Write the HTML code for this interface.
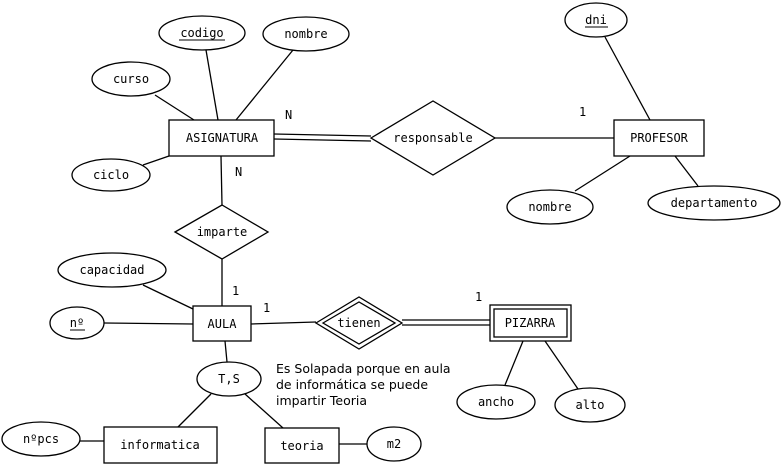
<!DOCTYPE html>
<html><head><meta charset="utf-8"><style>
html,body{margin:0;padding:0;background:#fff;}
svg{display:block;}
text{font-family:"DejaVu Sans Mono","Liberation Mono",monospace;font-size:12px;fill:#000;}
.t{font-family:"DejaVu Sans","Liberation Sans",sans-serif;font-size:12.5px;}
</style></head><body>
<svg width="782" height="465" viewBox="0 0 782 465" xmlns="http://www.w3.org/2000/svg">
<g stroke="#000" stroke-width="1.3" fill="none">
<!-- lines -->
<line x1="206" y1="50" x2="218" y2="120"/>
<line x1="293" y1="50" x2="236" y2="120"/>
<line x1="155" y1="95" x2="194" y2="120"/>
<line x1="143" y1="165" x2="169" y2="156"/>
<line x1="274" y1="134" x2="371" y2="136"/>
<line x1="274" y1="139" x2="371" y2="141"/>
<line x1="495" y1="138" x2="614" y2="138"/>
<line x1="605" y1="37" x2="650" y2="120"/>
<line x1="575" y1="191" x2="630" y2="156"/>
<line x1="698" y1="186" x2="675" y2="156"/>
<line x1="221" y1="156" x2="222" y2="205"/>
<line x1="222" y1="259" x2="222" y2="306"/>
<line x1="143" y1="285" x2="193" y2="309"/>
<line x1="104" y1="323" x2="193" y2="324"/>
<line x1="251" y1="324" x2="316" y2="322"/>
<line x1="402" y1="320" x2="490" y2="320"/>
<line x1="402" y1="325" x2="490" y2="325"/>
<line x1="523" y1="341" x2="505" y2="385"/>
<line x1="545" y1="341" x2="578" y2="389"/>
<line x1="225" y1="341" x2="227" y2="362"/>
<line x1="211" y1="394" x2="178" y2="427"/>
<line x1="245" y1="394" x2="283" y2="428"/>
<line x1="80" y1="441" x2="104" y2="441"/>
<line x1="339" y1="444" x2="367" y2="444"/>
<!-- shapes -->
<g fill="#fff">
<ellipse cx="202" cy="33" rx="43" ry="17"/>
<ellipse cx="306" cy="34" rx="43" ry="17"/>
<ellipse cx="131" cy="79" rx="39" ry="17"/>
<ellipse cx="111" cy="175" rx="39" ry="16"/>
<rect x="169" y="120" width="105" height="36"/>
<polygon points="371,138 433,101 495,138 433,175"/>
<rect x="614" y="120" width="90" height="36"/>
<ellipse cx="596" cy="20" rx="31" ry="17"/>
<ellipse cx="550" cy="207" rx="43" ry="17"/>
<ellipse cx="714" cy="203" rx="66" ry="17"/>
<polygon points="175,232 222,205 268,232 222,259"/>
<ellipse cx="112" cy="270" rx="54" ry="17"/>
<ellipse cx="77" cy="323" rx="27" ry="16"/>
<rect x="193" y="306" width="58" height="35"/>
<polygon points="316,323 359,297 402,323 359,349"/>
<polygon points="323,323 359,302 395,323 359,344"/>
<rect x="490" y="305" width="81" height="36"/>
<rect x="494" y="309" width="73" height="28"/>
<ellipse cx="496" cy="402" rx="39" ry="17"/>
<ellipse cx="590" cy="405" rx="35" ry="17"/>
<ellipse cx="229" cy="379" rx="32" ry="17"/>
<rect x="104" y="427" width="113" height="36"/>
<rect x="265" y="428" width="74" height="35"/>
<ellipse cx="41" cy="439" rx="39" ry="17"/>
<ellipse cx="394" cy="444" rx="27" ry="17"/>
</g>
<!-- underlines -->
<line x1="179" y1="40" x2="225" y2="40" stroke-width="1"/>
<line x1="585" y1="27" x2="608" y2="27" stroke-width="1"/>
<line x1="70" y1="330" x2="85" y2="330" stroke-width="1"/>
</g>
<g text-anchor="middle">
<text x="202" y="37">codigo</text>
<text x="306" y="38">nombre</text>
<text x="131" y="83">curso</text>
<text x="111" y="179">ciclo</text>
<text x="222" y="142">ASIGNATURA</text>
<text x="433" y="142">responsable</text>
<text x="659" y="142">PROFESOR</text>
<text x="596" y="24">dni</text>
<text x="550" y="211">nombre</text>
<text x="714" y="207">departamento</text>
<text x="222" y="236">imparte</text>
<text x="112" y="274">capacidad</text>
<text x="77" y="327">nº</text>
<text x="222" y="328">AULA</text>
<text x="359" y="327">tienen</text>
<text x="530" y="327">PIZARRA</text>
<text x="496" y="406">ancho</text>
<text x="590" y="409">alto</text>
<text x="229" y="383">T,S</text>
<text x="160" y="449">informatica</text>
<text x="302" y="450">teoria</text>
<text x="41" y="443">nºpcs</text>
<text x="394" y="448">m2</text>
</g>
<text x="285" y="119">N</text>
<text x="579" y="116">1</text>
<text x="235" y="176">N</text>
<text x="232" y="295">1</text>
<text x="263" y="312">1</text>
<text x="475" y="301">1</text>
<text class="t" x="276" y="373">Es Solapada porque en aula</text>
<text class="t" x="276" y="389">de informática se puede</text>
<text class="t" x="276" y="405">impartir Teoria</text>
</svg>
</body></html>
